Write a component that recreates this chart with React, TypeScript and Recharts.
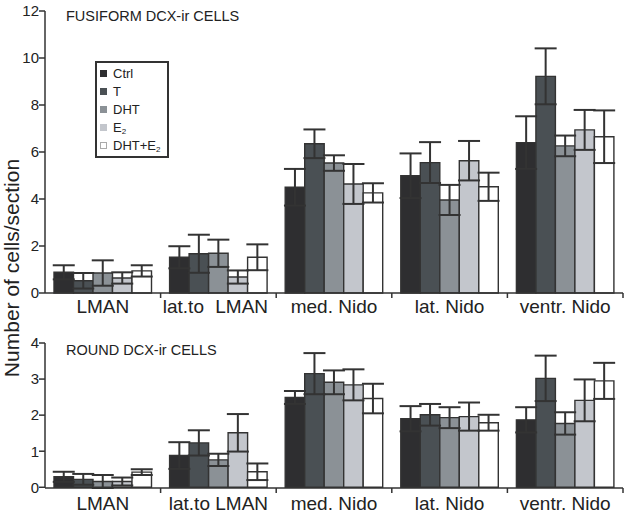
import React from 'react'
import { BarChart, Bar, XAxis, YAxis, ErrorBar } from 'recharts'

const categories = ['LMAN', 'lat.to LMAN', 'med. Nido', 'lat. Nido', 'ventr. Nido']
const seriesNames = ['Ctrl', 'T', 'DHT', 'E2', 'DHT+E2']
const seriesKeys = ['ctrl', 't', 'dht', 'e2', 'dhte2']
const COLORS = ['#2e2e30', '#4a5054', '#8b9196', '#c3c6cc', '#ffffff']

// fusiform DCX-ir cells, mean and SEM
const fusiformCtrl = [0.88, 1.52, 4.5, 4.99, 6.4]
const fusiformT = [0.52, 1.67, 6.35, 5.55, 9.22]
const fusiformDHT = [0.85, 1.69, 5.53, 3.96, 6.26]
const fusiformE2 = [0.64, 0.68, 4.64, 5.63, 6.94]
const fusiformDHTE2 = [0.94, 1.52, 4.26, 4.52, 6.65]
const fusiformCtrlErr = [0.3, 0.47, 0.78, 0.95, 1.12]
const fusiformTErr = [0.33, 0.81, 0.61, 0.87, 1.19]
const fusiformDHTErr = [0.54, 0.58, 0.33, 0.64, 0.44]
const fusiformE2Err = [0.24, 0.28, 0.85, 0.84, 0.85]
const fusiformDHTE2Err = [0.24, 0.55, 0.41, 0.6, 1.12]

// round DCX-ir cells
const roundCtrl = [0.29, 0.88, 2.49, 1.9, 1.87]
const roundT = [0.22, 1.23, 3.15, 2.01, 3.02]
const roundDHT = [0.16, 0.76, 2.91, 1.93, 1.77]
const roundE2 = [0.16, 1.51, 2.84, 1.96, 2.41]
const roundDHTE2 = [0.42, 0.43, 2.46, 1.79, 2.95]
const roundCtrlErr = [0.14, 0.37, 0.18, 0.35, 0.35]
const roundTErr = [0.15, 0.35, 0.57, 0.3, 0.63]
const roundDHTErr = [0.18, 0.17, 0.33, 0.29, 0.31]
const roundE2Err = [0.11, 0.52, 0.43, 0.39, 0.58]
const roundDHTE2Err = [0.08, 0.23, 0.41, 0.22, 0.5]

const fusiformTicks = [0, 2, 4, 6, 8, 10, 12]
const roundTicks = [0, 1, 2, 3, 4]

const buildRows = (vals: number[][], errs: number[][]) =>
  categories.map((name, i) => {
    const row: any = { name }
    seriesKeys.forEach((k, s) => {
      row[k] = vals[s][i]
      row[k + 'Err'] = errs[s][i]
    })
    return row
  })

const fusiformData = buildRows(
  [fusiformCtrl, fusiformT, fusiformDHT, fusiformE2, fusiformDHTE2],
  [fusiformCtrlErr, fusiformTErr, fusiformDHTErr, fusiformE2Err, fusiformDHTE2Err]
)
const roundData = buildRows(
  [roundCtrl, roundT, roundDHT, roundE2, roundDHTE2],
  [roundCtrlErr, roundTErr, roundDHTErr, roundE2Err, roundDHTE2Err]
)

const W = 629
const Y_AXIS_W = 45
const RIGHT = 6
const BAND = (W - Y_AXIS_W - RIGHT) / categories.length
const AXIS = '#333'
const FONT = '"Liberation Sans", Arial, sans-serif'

// tick mark at the right edge of each category, label in the middle
const makeXTick = (labelDy: number, wideSecond: boolean) => (props: any) => {
  const { x, y, payload, index } = props
  const edge = x + BAND / 2
  const spacing = wideSecond && index === 1 ? 6 : 0
  return (
    <g>
      <line x1={edge} y1={y} x2={edge} y2={y + 5} stroke={AXIS} strokeWidth={1.5} />
      <text
        x={x - spacing / 2}
        y={y + labelDy}
        textAnchor="middle"
        fontSize={19}
        fill="#222"
        fontFamily={FONT}
        style={{ wordSpacing: spacing }}
      >
        {payload.value}
      </text>
    </g>
  )
}

const renderName = (name: string) =>
  name.endsWith('E2') ? (
    <>
      {name.slice(0, -1)}
      <sub style={{ fontSize: 8, verticalAlign: 'baseline', position: 'relative', top: 2 }}>2</sub>
    </>
  ) : (
    name
  )

const LegendBox = () => (
  <div
    style={{
      position: 'absolute',
      left: 95,
      top: 61,
      border: '2px solid #333',
      width: 67,
      padding: '1px 0 1px 3px',
      background: '#fff',
      fontFamily: FONT,
      fontSize: 13,
      color: '#222'
    }}
  >
    {seriesNames.map((name, i) => (
      <div key={name} style={{ height: 18.2, display: 'flex', alignItems: 'center' }}>
        <span
          style={{
            display: 'inline-block',
            width: 7,
            height: 7,
            marginRight: 6,
            background: COLORS[i],
            boxSizing: 'border-box',
            border: i === 4 ? '1px solid #aaa' : 'none'
          }}
        ></span>
        <span>{renderName(name)}</span>
      </div>
    ))}
  </div>
)

const renderBars = () =>
  seriesKeys.map((k, i) => (
    <Bar
      key={k}
      dataKey={k}
      name={seriesNames[i]}
      fill={COLORS[i]}
      stroke="#333"
      strokeWidth={1.4}
      barSize={19.5}
      isAnimationActive={false}
    >
      <ErrorBar
        dataKey={k + 'Err'}
        width={11}
        stroke="#333"
        strokeWidth={2}
        direction="y"
        isAnimationActive={false}
      />
    </Bar>
  ))

const App = () => (
  <div style={{ position: 'absolute', left: 0, top: 0, width: W, height: 513, background: '#fff' }}>
    <div style={{ position: 'absolute', left: 0, top: 0 }}>
      <BarChart
        width={W}
        height={320}
        data={fusiformData}
        margin={{ top: 11, right: RIGHT, left: 0, bottom: 0 }}
        barGap={0}
      >
        <XAxis
          dataKey="name"
          height={27}
          tickSize={0}
          tickMargin={0}
          tickLine={false}
          axisLine={{ stroke: AXIS, strokeWidth: 1.5 }}
          tick={makeXTick(20, true)}
          interval={0}
        />
        <YAxis
          width={Y_AXIS_W}
          domain={[0, 12]}
          ticks={fusiformTicks}
          tickSize={6}
          tickMargin={0}
          axisLine={{ stroke: AXIS, strokeWidth: 1.5 }}
          tickLine={{ stroke: AXIS, strokeWidth: 1.5 }}
          tick={{ fontSize: 15, fill: '#222', fontFamily: FONT }}
        />
        {renderBars()}
      </BarChart>
    </div>
    <div style={{ position: 'absolute', left: 0, top: 320 }}>
      <BarChart
        width={W}
        height={193}
        data={roundData}
        margin={{ top: 23, right: RIGHT, left: 0, bottom: 0 }}
        barGap={0}
      >
        <XAxis
          dataKey="name"
          height={25}
          tickSize={0}
          tickMargin={0}
          tickLine={false}
          axisLine={{ stroke: AXIS, strokeWidth: 1.5 }}
          tick={makeXTick(22, false)}
          interval={0}
        />
        <YAxis
          width={Y_AXIS_W}
          domain={[0, 4]}
          ticks={roundTicks}
          tickSize={6}
          tickMargin={0}
          axisLine={{ stroke: AXIS, strokeWidth: 1.5 }}
          tickLine={{ stroke: AXIS, strokeWidth: 1.5 }}
          tick={{ fontSize: 15, fill: '#222', fontFamily: FONT }}
        />
        {renderBars()}
      </BarChart>
    </div>
    <LegendBox />
    <div
      style={{
        position: 'absolute',
        left: 66,
        top: 8,
        fontFamily: FONT,
        fontSize: 14.5,
        color: '#222',
        whiteSpace: 'nowrap'
      }}
    >
      FUSIFORM DCX-ir CELLS
    </div>
    <div
      style={{
        position: 'absolute',
        left: 66,
        top: 342,
        fontFamily: FONT,
        fontSize: 14.5,
        color: '#222',
        whiteSpace: 'nowrap'
      }}
    >
      ROUND DCX-ir CELLS
    </div>
    <svg
      width={40}
      height={513}
      style={{ position: 'absolute', left: 0, top: 0, pointerEvents: 'none' }}
    >
      <text
        x={19}
        y={268}
        transform="rotate(-90, 19, 268)"
        textAnchor="middle"
        fontSize={21}
        fill="#222"
        fontFamily={FONT}
      >
        Number of cells/section
      </text>
    </svg>
  </div>
)

export default App
